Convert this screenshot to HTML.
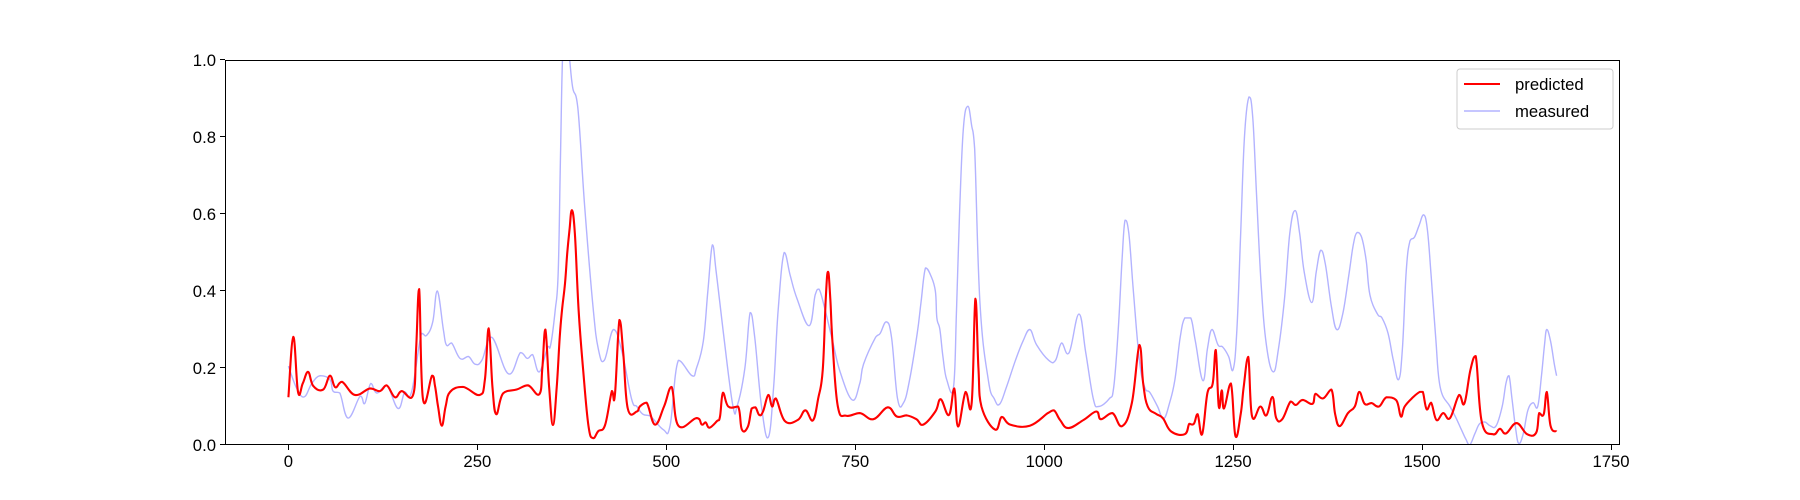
<!DOCTYPE html>
<html><head><meta charset="utf-8"><style>
html,body{margin:0;padding:0;background:#fff;}
svg{display:block;font-family:"Liberation Sans","DejaVu Sans",sans-serif;}
</style></head><body>
<svg id="chart" width="1800" height="500" viewBox="0 0 1800 500" xmlns="http://www.w3.org/2000/svg">
<defs><clipPath id="plotclip"><rect x="225" y="60" width="1395" height="385"/></clipPath></defs>
<rect x="0" y="0" width="1800" height="500" fill="#fff"/>
<g id="series" clip-path="url(#plotclip)"></g>
<g id="axes"></g>
<g id="legend">
<rect x="1457" y="69" width="156" height="60" rx="3" fill="#fff" fill-opacity="0.8" stroke="#ccc" stroke-width="1"/>
<line x1="1464" y1="84" x2="1500" y2="84" stroke="#ff0000" stroke-width="2.1"/>
<text x="1515" y="90" font-size="16.7" fill="#000">predicted</text>
<line x1="1464" y1="111" x2="1500" y2="111" stroke="#b3b3ff" stroke-width="1.4"/>
<text x="1515" y="117" font-size="16.7" fill="#000">measured</text>
</g>
</svg>
<script>
const measX=[0,11,21,31,42,55,59,68,79,95,101,109,117,130,145,154,163,176,183,191,197,205,209,216,227,238,247,256,269,291,307,316,323,332,343,347,353,357,360,363,367,371,376,383,392,403,410,418,430,441,454,461,469,479,496,505,516,534,540,549,555,561,566,575,588,594,604,611,617,626,635,642,648,656,664,673,689,697,702,709,720,730,746,756,761,777,783,791,798,806,814,822,832,837,843,850,856,858,862,866,871,880,884,888,893,899,904,908,915,926,934,941,950,962,972,981,990,1006,1015,1023,1033,1046,1055,1065,1072,1086,1092,1098,1103,1107,1112,1118,1126,1133,1140,1150,1158,1166,1173,1180,1186,1194,1200,1210,1216,1222,1230,1236,1244,1250,1255,1260,1265,1271,1276,1281,1287,1294,1303,1310,1318,1325,1332,1338,1344,1354,1360,1366,1372,1380,1387,1395,1403,1409,1414,1420,1426,1431,1441,1447,1455,1462,1469,1474,1479,1484,1490,1496,1502,1507,1512,1518,1524,1537,1545,1552,1558,1563,1570,1576,1583,1590,1598,1606,1611,1615,1619,1624,1628,1634,1640,1647,1653,1658,1662,1665,1670,1675,1678];
const measY=[.205,.147,.125,.16,.18,.17,.14,.135,.07,.127,.108,.16,.135,.155,.095,.138,.138,.29,.285,.32,.40,.30,.26,.265,.225,.23,.21,.22,.28,.185,.24,.225,.235,.19,.255,.26,.35,.45,.75,1.02,1.05,1.02,.93,.875,.62,.36,.25,.22,.30,.245,.12,.10,.08,.075,.04,.05,.22,.18,.20,.27,.40,.52,.45,.30,.103,.103,.20,.344,.28,.10,.02,.15,.35,.50,.44,.38,.31,.39,.405,.36,.27,.19,.117,.16,.21,.28,.29,.32,.28,.12,.11,.17,.29,.37,.46,.44,.40,.33,.30,.23,.17,.15,.35,.60,.82,.88,.83,.77,.37,.17,.12,.106,.15,.22,.27,.30,.26,.22,.22,.265,.24,.34,.24,.12,.10,.12,.15,.30,.48,.584,.55,.40,.22,.15,.136,.10,.068,.11,.17,.28,.33,.33,.27,.167,.25,.30,.26,.255,.23,.196,.30,.55,.80,.904,.85,.65,.42,.26,.19,.25,.38,.55,.609,.55,.45,.37,.45,.506,.47,.36,.30,.34,.44,.52,.552,.54,.48,.39,.34,.33,.29,.22,.17,.25,.45,.53,.54,.57,.598,.56,.44,.28,.15,.10,.07,.04,.015,.0,.03,.055,.06,.05,.05,.10,.16,.18,.12,.04,.004,.03,.09,.11,.10,.18,.26,.30,.27,.21,.18];
const predX=[0,6.5,12.7,19,26,33,46,55,62,71,88,108,121,130,141,150,165,169,173,178,190,194,198,203,208,214,231,253,260,265,270,275,284,302,317,332,336,340,345,350,355,359,362,366,369,372,375,379,384,390,397,403,410,419,428,432,438,443,449,461,465,474,485,497,507,516,540,547,552,557,567,571,575,582,595,600,608,613,618,623,628,635,640,645,657,674,684,694,701,707,711,714,717,720,727,738,756,774,793,805,818,831,840,856,863,874,881,886,896,904,909,913,917,935,944,955,981,1005,1013,1021,1032,1052,1069,1075,1090,1103,1116,1126,1131,1137,1148,1157,1168,1186,1192,1198,1203,1209,1216,1223,1227,1231,1235,1238,1247,1253,1260,1264,1270,1275,1286,1294,1302,1307,1315,1326,1333,1342,1355,1359,1369,1380,1385,1391,1402,1411,1417,1424,1433,1443,1453,1466,1472,1477,1488,1497,1501,1506,1512,1519,1528,1537,1549,1556,1564,1571,1579,1594,1603,1611,1625,1639,1651,1655,1661,1665,1670,1678];
const predY=[.124,.281,.138,.16,.19,.153,.144,.18,.15,.164,.13,.147,.14,.155,.124,.14,.13,.25,.405,.12,.18,.153,.10,.05,.10,.138,.151,.13,.17,.303,.15,.08,.134,.144,.155,.132,.20,.30,.15,.052,.15,.28,.35,.42,.50,.56,.61,.55,.35,.195,.05,.018,.036,.052,.14,.13,.325,.24,.095,.087,.1,.11,.053,.1,.151,.05,.07,.053,.059,.045,.062,.073,.136,.1,.1,.04,.048,.095,.098,.078,.087,.13,.1,.121,.062,.065,.09,.064,.121,.195,.38,.45,.38,.264,.1,.076,.083,.067,.098,.074,.077,.067,.053,.087,.119,.078,.147,.048,.138,.108,.38,.2,.1,.04,.073,.053,.05,.083,.09,.065,.044,.065,.087,.067,.083,.049,.109,.26,.16,.1,.081,.07,.035,.028,.055,.055,.08,.028,.135,.16,.247,.1,.142,.095,.16,.024,.08,.151,.229,.075,.1,.077,.125,.07,.067,.113,.104,.117,.107,.133,.121,.144,.08,.049,.083,.1,.138,.107,.109,.1,.124,.116,.074,.1,.124,.138,.138,.093,.11,.065,.083,.07,.13,.108,.195,.231,.06,.028,.042,.03,.057,.028,.032,.083,.08,.138,.05,.035];
const xTicks=[0,250,500,750,1000,1250,1500,1750];
const yTicks=[0,0.2,0.4,0.6,0.8,1.0];
const yTickLabels=["0.0","0.2","0.4","0.6","0.8","1.0"];

const L=225,R=1620,T=60,B=445;
const XMIN=-83.9,XMAX=1761.9,YMIN=0,YMAX=1;
function sx(v){return L+(v-XMIN)/(XMAX-XMIN)*(R-L);}
function sy(v){return B-(v-YMIN)/(YMAX-YMIN)*(B-T);}
const NS="http://www.w3.org/2000/svg";
function mk(tag,attrs,parent){const e=document.createElementNS(NS,tag);for(const k in attrs)e.setAttribute(k,attrs[k]);parent.appendChild(e);return e;}
const series=document.getElementById('series');
const axes=document.getElementById('axes');
function smoothPath(xs,ys){
  const P=xs.map((x,i)=>[sx(x),sy(ys[i])]);
  let d="M"+P[0][0].toFixed(2)+","+P[0][1].toFixed(2);
  const t=0.2;
  for(let i=0;i<P.length-1;i++){
    const p0=P[Math.max(0,i-1)],p1=P[i],p2=P[i+1],p3=P[Math.min(P.length-1,i+2)];
    let c1x=p1[0]+(p2[0]-p0[0])*t, c1y=p1[1]+(p2[1]-p0[1])*t;
    let c2x=p2[0]-(p3[0]-p1[0])*t, c2y=p2[1]-(p3[1]-p1[1])*t;
    const lo=Math.min(p1[1],p2[1]),hi=Math.max(p1[1],p2[1]);
    c1y=Math.max(Math.min(c1y,Math.max(hi,B)),Math.min(lo,hi)-0);
    c2y=Math.max(Math.min(c2y,Math.max(hi,B)),Math.min(lo,hi)-0);
    c1x=Math.min(Math.max(c1x,p1[0]),p2[0]); c2x=Math.min(Math.max(c2x,p1[0]),p2[0]);
    d+=" C"+c1x.toFixed(2)+","+c1y.toFixed(2)+" "+c2x.toFixed(2)+","+c2y.toFixed(2)+" "+p2[0].toFixed(2)+","+p2[1].toFixed(2);
  }
  return d;
}
const m=mk('path',{d:smoothPath(measX,measY),fill:'none',stroke:'#b3b3ff','stroke-width':1.4,'stroke-linejoin':'round'},series);


const p=mk('path',{d:smoothPath(predX,predY),fill:'none',stroke:'#ff0000','stroke-width':2.1,'stroke-linejoin':'round'},series);


const frame=mk('rect',{x:L+0.5,y:T+0.5,width:R-L-1,height:B-T-1,fill:'none',stroke:'#000','stroke-width':1},axes);


xTicks.forEach(v=>{
  const x=Math.round(sx(v))+0.5;
  const t=mk('line',{x1:x,y1:B,x2:x,y2:B+5,stroke:'#000','stroke-width':1},axes);
  
  
  const l=mk('text',{x:sx(v),y:B+22,'font-size':16.7,'text-anchor':'middle',fill:'#000'},axes);
  l.textContent=String(v);
  
  
});
yTicks.forEach((v,i)=>{
  const y=Math.round(sy(v))-0.5;
  const t=mk('line',{x1:L-5,y1:y,x2:L,y2:y,stroke:'#000','stroke-width':1},axes);
  
  
  const l=mk('text',{x:L-9,y:sy(v)+6,'font-size':16.7,'text-anchor':'end',fill:'#000'},axes);
  l.textContent=yTickLabels[i];
  
  
});
</script>
</body></html>
